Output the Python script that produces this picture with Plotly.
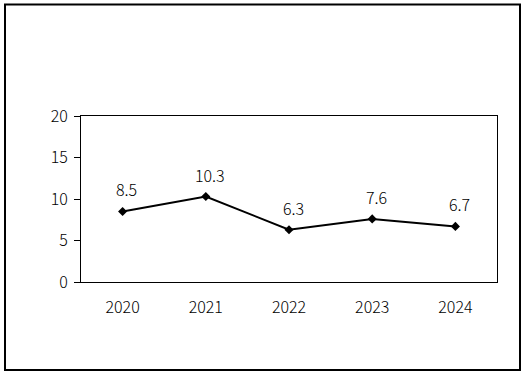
import plotly.graph_objects as go

years = ["2020", "2021", "2022", "2023", "2024"]
values = [8.5, 10.3, 6.3, 7.6, 6.7]
labels = ["8.5", "10.3", "6.3", "7.6", "6.7"]
y_ticks = [0, 5, 10, 15, 20]

FONT = "Noto Sans CJK SC"
FS = 16

fig = go.Figure()
fig.add_trace(go.Scatter(
    x=years, y=values, mode="lines+markers",
    line=dict(color="black", width=2),
    marker=dict(symbol="diamond", size=7, color="black"),
    hoverinfo="skip", showlegend=False,
))

for i, (y, t) in enumerate(zip(values, labels)):
    fig.add_annotation(x=i, y=y, xref="x", yref="y", text=t, showarrow=False,
                       xanchor="center", yanchor="bottom",
                       xshift=4, yshift=8,
                       font=dict(family=FONT, size=FS, color="black", weight=300))

L, R, T, B = 81, 28, 116, 99
W, H = 525, 381
pw = W - L - R
ph = H - T - B


def px2x(p):
    return (p - L) / pw


def px2y(p):
    return (H - B - p) / ph


fig.add_shape(type="rect", xref="paper", yref="paper",
              x0=px2x(5), x1=px2x(520), y0=px2y(370), y1=px2y(4.5),
              line=dict(color="black", width=2), fillcolor="rgba(0,0,0,0)")

fig.update_layout(
    width=W, height=H,
    margin=dict(l=L, r=R, t=T, b=B, pad=0),
    paper_bgcolor="white", plot_bgcolor="white",
    font=dict(family=FONT, size=FS, color="black", weight=300),
    xaxis=dict(type="category", range=[-0.5, 4.5], showgrid=False,
               showline=True, mirror=True, linecolor="black", linewidth=1,
               ticks="", ticklabelstandoff=11, zeroline=False,
               tickfont=dict(family=FONT, size=FS, color="black", weight=300)),
    yaxis=dict(range=[0, 20], tickvals=y_ticks, showgrid=False,
               showline=True, mirror=True, linecolor="black", linewidth=1,
               ticks="outside", ticklen=6, tickcolor="black", tickwidth=1,
               ticklabelstandoff=3, zeroline=False,
               tickfont=dict(family=FONT, size=FS, color="black", weight=300)),
)

fig.write_html(
    "out.html",
    config={"displayModeBar": False},
    post_script="document.body.style.margin='0';document.body.style.overflow='hidden';",
)
